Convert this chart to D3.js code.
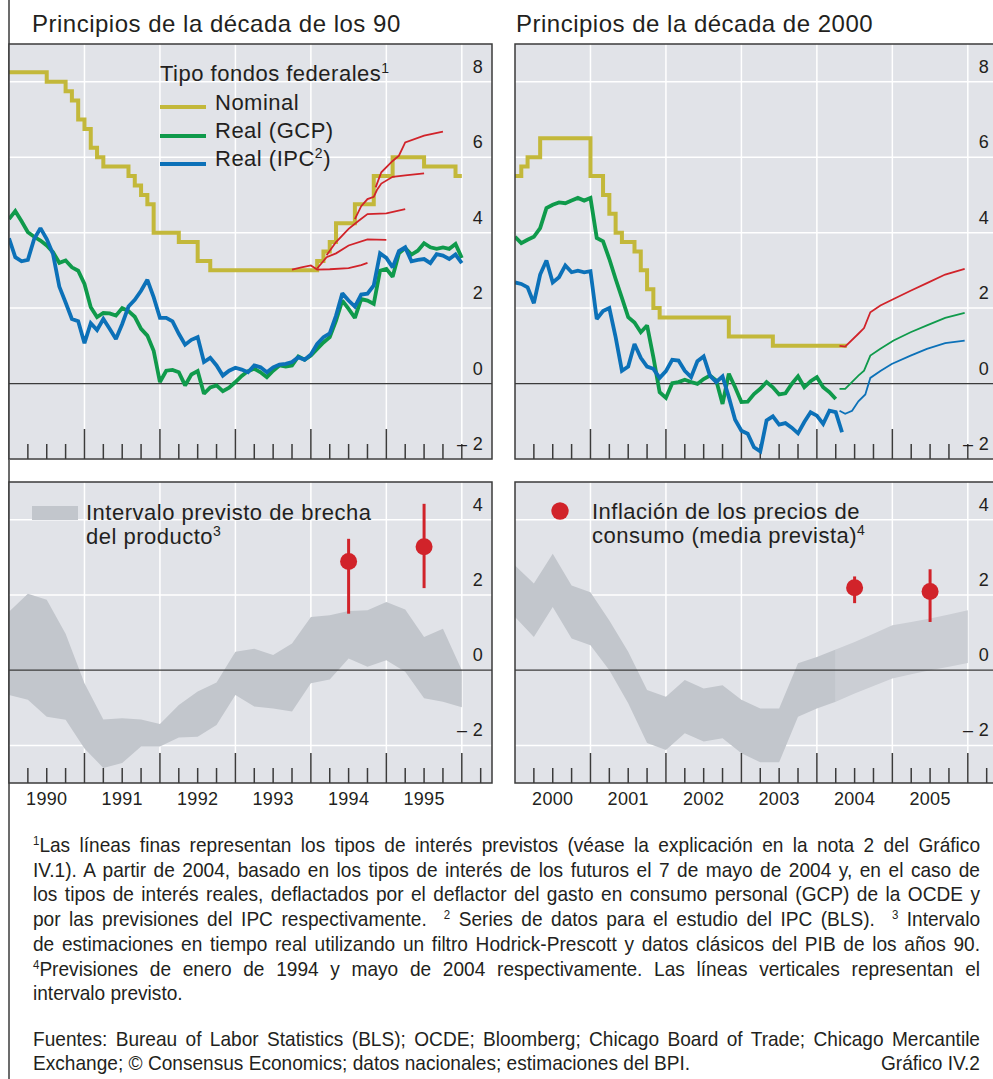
<!DOCTYPE html>
<html>
<head>
<meta charset="utf-8">
<title>Gráfico IV.2</title>
<script src="https://cdn.jsdelivr.net/npm/d3@7/dist/d3.min.js"></script>
<style>
  body { margin: 0; background: #ffffff; }
  text { font-family: "Liberation Sans", Arial, sans-serif; fill: #231f20; }
  .big { font-size: 22px; letter-spacing: 0.5px; }
  .title { font-size: 24px; letter-spacing: 0.5px; }
  .tick { font-size: 18px; letter-spacing: 0.3px; }
  .foot { font-size: 20px; white-space: pre; }
</style>
</head>
<body>
<svg id="chart" width="993" height="1079"></svg>
<script>
// ---------------- data ----------------
// fed funds target (nominal), monthly from Jan 1990 to Dec 1995
var nominal90 = [8.25,8.25,8.25,8.25,8.25,8.25,8,8,8,7.75,7.5,7,
  6.75,6.25,6,5.75,5.75,5.75,5.75,5.5,5.25,5,4.75,4,
  4,4,4,3.75,3.75,3.75,3.25,3.25,3,3,3,3,
  3,3,3,3,3,3,3,3,3,3,3,3,
  3,3.25,3.5,3.75,4.25,4.25,4.25,4.75,4.75,4.75,5.5,5.5,
  5.5,6,6,6,6,6,5.75,5.75,5.75,5.75,5.75,5.5];
// real rates (PCE deflator / CPI), monthly from Jan 1990 to Jan 1996
var gcp90 = [4.36,4.57,4.30,4.01,3.89,3.79,3.66,3.48,3.20,3.26,3.08,2.99,
  2.64,2.02,1.76,1.87,1.86,1.80,2.00,1.92,1.77,1.45,1.27,0.87,
  0.04,0.34,0.36,0.30,-0.05,0.24,0.33,-0.27,-0.10,-0.05,-0.20,-0.11,
  0.04,0.20,0.33,0.39,0.30,0.17,0.34,0.48,0.45,0.48,0.72,0.63,
  0.74,0.92,1.09,1.23,1.67,2.20,1.98,1.74,2.24,2.20,2.11,2.99,
  3.04,2.83,3.45,3.59,3.42,3.52,3.72,3.61,3.57,3.61,3.57,3.70,3.33];
var ipc90 = [3.85,3.35,3.24,3.28,3.83,4.12,3.83,3.43,2.57,2.15,1.71,1.65,
  1.07,1.60,1.42,1.71,1.45,1.18,1.58,2.04,2.22,2.46,2.75,2.29,
  1.74,1.74,1.65,1.32,1.03,1.16,1.23,0.57,0.68,0.48,0.21,0.34,
  0.42,0.37,0.30,0.48,0.43,0.30,0.43,0.50,0.52,0.57,0.70,0.63,
  0.77,1.05,1.23,1.33,1.80,2.39,2.20,2.04,2.36,2.38,2.60,3.45,
  3.33,3.08,3.51,3.61,3.24,3.28,3.30,3.19,3.43,3.39,3.30,3.42,3.19];
// futures-implied paths, [months since Jan 1990, rate]
var fut90a = [[45,3.02],[46.5,3.08],[48,3.13],[49,3.02],[51,3.03],[54,3.06],[56,3.14],[57,3.20]];
var fut90b = [[49,3.05],[50.5,3.35],[52,3.45],[54,3.66],[57,3.82],[60,3.81]];
var fut90c = [[50.5,3.40],[52,3.75],[54,4.10],[55.5,4.30],[57,4.49],[60,4.51],[63,4.62]];
var fut90d = [[55,4.36],[56,4.70],[57,4.89],[58,4.95],[58.5,5.13],[59.2,5.30],[61,5.48],[63,5.52],[66,5.57]];
var fut90e = [[58.3,5.20],[59.2,5.60],[61,5.90],[62,6.04],[63,6.39],[66,6.57],[69,6.68]];

// early 2000s, monthly from Jan 2000
var nominal00 = [5.5,5.75,6,6,6.5,6.5,6.5,6.5,6.5,6.5,6.5,6.5,
  5.5,5.5,5,4.5,4,3.75,3.75,3.5,3,2.5,2,1.75,
  1.75,1.75,1.75,1.75,1.75,1.75,1.75,1.75,1.75,1.75,1.25,1.25,
  1.25,1.25,1.25,1.25,1.25,1,1,1,1,1,1,1,
  1,1,1,1,1];
var gcp00 = [3.89,3.72,3.81,3.89,4.12,4.65,4.74,4.80,4.78,4.85,4.92,4.85,
  4.92,3.86,3.77,3.30,2.77,2.27,1.76,1.62,1.36,1.54,0.70,-0.23,
  -0.38,0.01,0.04,0.10,0.04,-0.01,0.12,0.21,0.08,-0.54,0.26,-0.10,
  -0.49,-0.48,-0.28,-0.14,0.04,-0.10,-0.29,-0.26,-0.01,0.19,-0.10,0.06,
  0.17,-0.10,-0.23,-0.41];
var ipc00 = [2.68,2.64,2.55,2.13,2.89,3.26,2.68,2.82,3.13,2.95,2.99,2.95,
  2.98,1.71,1.92,2.00,1.23,0.34,0.45,1.05,0.68,0.45,0.39,0.15,
  0.33,0.63,0.61,0.34,0.17,0.59,0.72,0.21,0.04,0.19,-0.36,-0.96,
  -1.25,-1.33,-1.69,-1.80,-0.98,-0.87,-1.09,-1.05,-1.17,-1.32,-1.02,-0.76,
  -0.85,-1.07,-0.72,-0.76,-1.29];
// futures-implied paths from May 2004, [months since Jan 2000, rate]
var fut00Nominal = [[51.6,1.00],[52.5,0.98],[54.6,1.32],[55.5,1.47],[56.5,1.89],[58.1,2.07],[60.2,2.24],[62.9,2.46],[65.5,2.66],[68.4,2.89],[71.5,3.04]];
var fut00Gcp = [[51.6,-0.14],[52.5,-0.14],[54.6,0.21],[55.5,0.34],[56.5,0.74],[58.1,0.92],[60.2,1.14],[62.9,1.36],[65.5,1.54],[68.4,1.74],[71.5,1.87]];
var fut00Ipc = [[51.6,-0.72],[52.5,-0.80],[53.6,-0.72],[54.6,-0.47],[55.7,-0.29],[56.5,0.15],[58.1,0.33],[59.9,0.52],[62.9,0.74],[65.5,0.92],[68.4,1.07],[71.5,1.14]];

// output gap range, quarterly from 1990 Q1 to 1996 Q1
var gap90Hi = [1.55,2.03,1.87,0.97,-0.35,-1.31,-1.28,-1.31,-1.43,-0.93,-0.57,-0.33,0.49,0.57,0.40,0.71,1.41,1.46,1.57,1.59,1.81,1.61,0.88,1.10,0.00];
var gap90Lo = [-0.66,-0.79,-1.24,-1.32,-2.08,-2.60,-2.47,-2.03,-2.03,-1.79,-1.77,-1.46,-0.66,-0.97,-1.02,-1.10,-0.35,-0.25,0.31,0.09,0.26,-0.04,-0.75,-0.84,-0.99];
// same for 2000 Q1 to 2006 Q1 (from 2004 Q2 on a forecast)
var gap00Hi = [2.78,2.30,3.09,2.25,2.07,1.32,0.49,-0.53,-0.71,-0.26,-0.49,-0.40,-0.79,-1.02,-1.02,0.18,0.35,0.55,0.75,0.97,1.19,1.28,1.37,1.48,1.59];
var gap00Lo = [1.41,0.88,1.68,0.84,0.66,0.00,-0.88,-1.94,-2.12,-1.68,-1.90,-1.81,-2.21,-2.45,-2.45,-1.24,-1.02,-0.84,-0.62,-0.42,-0.22,-0.11,0.00,0.09,0.19];
var gapForecastFrom = 17;

// consumer price inflation forecasts: year, mean, low, high
var cpi90Year = [1994, 1995], cpi90Mean = [2.89, 3.28], cpi90Lo = [1.50, 2.18], cpi90Hi = [3.49, 4.42];
var cpi00Year = [2004, 2005], cpi00Mean = [2.19, 2.09], cpi00Lo = [1.78, 1.28], cpi00Hi = [2.49, 2.68];

var topTicks = [8, 6, 4, 2, 0, -2];
var bottomTicks = [4, 2, 0, -2];

// ---------------- drawing ----------------
var col = {bg:'#e1e3e8', band:'#c2c6cc', bandFc:'#cbced4', grid:'#ffffff', ink:'#231f20',
  frame:'#3b3b3b', nominal:'#c3b83a', gcp:'#0f9a4b', ipc:'#0c71b8', red:'#d1232a'};
var svg = d3.select('#chart');
var defs = svg.append('defs');

svg.append('rect').attr('width', 993).attr('height', 1079).attr('fill', '#fff');
// outer box left edge
svg.append('line').attr('x1', 9).attr('x2', 9).attr('y1', 0).attr('y2', 1079)
  .attr('stroke', col.frame).attr('stroke-width', 1.5);

function makePanel(id, xr, yr, xd, yd)
{
  var p = {id: id};
  p.x = d3.scaleLinear().domain(xd).range(xr);
  p.y = d3.scaleLinear().domain(yd).range([yr[1], yr[0]]);
  p.x0 = xr[0]; p.x1 = xr[1]; p.yt = yr[0]; p.yb = yr[1];
  defs.append('clipPath').attr('id', id + '-clip').append('rect')
    .attr('x', xr[0]).attr('y', yr[0]).attr('width', xr[1] - xr[0]).attr('height', yr[1] - yr[0]);
  p.g = svg.append('g').attr('id', id);
  p.g.append('rect').attr('x', xr[0]).attr('y', yr[0]).attr('width', xr[1] - xr[0])
    .attr('height', yr[1] - yr[0]).attr('fill', col.bg);
  p.grid = p.g.append('g');
  p.band = p.g.append('g').attr('clip-path', 'url(#' + id + '-clip)');
  p.axis = p.g.append('g');
  p.lines = p.g.append('g').attr('clip-path', 'url(#' + id + '-clip)');
  p.top = p.g.append('g');
  return p;
}

function drawAxes(p, yTicks, isBottom)
{
  var start = p.x.domain()[0];
  // white grid
  for (var k = 1; k <= 6; k++)
    p.grid.append('line').attr('x1', p.x(start + k)).attr('x2', p.x(start + k))
      .attr('y1', p.yt).attr('y2', p.yb).attr('stroke', col.grid).attr('stroke-width', 1.5);
  yTicks.forEach(function(v) {
    if (v == 0) return;
    p.grid.append('line').attr('x1', p.x0).attr('x2', p.x1).attr('y1', p.y(v)).attr('y2', p.y(v))
      .attr('stroke', col.grid).attr('stroke-width', 1.5);
  });
  // zero line
  p.axis.append('line').attr('x1', p.x0).attr('x2', p.x1).attr('y1', p.y(0)).attr('y2', p.y(0))
    .attr('stroke', col.frame).attr('stroke-width', 1.2);
  // quarter ticks, taller on year boundaries
  var last = isBottom ? 25 : 24;
  for (var q = 1; q <= last; q++) {
    var major = (q % 4 == 0) && (isBottom || q < 24);
    var xx = p.x(start + q / 4);
    p.axis.append('line').attr('x1', xx).attr('x2', xx).attr('y1', p.yb).attr('y2', p.yb - (major ? 30 : 15))
      .attr('stroke', col.frame).attr('stroke-width', 1.5);
  }
  // value labels sit above their grid line
  yTicks.forEach(function(v) {
    p.axis.append('text').attr('class', 'tick').attr('x', p.x1 - 9).attr('y', p.y(v) - 9)
      .attr('text-anchor', 'end')
      .text(v < 0 ? '\u2013 ' + Math.abs(v) : v);
  });
  if (isBottom) {
    for (var k2 = 0; k2 < 6; k2++)
      svg.append('text').attr('class', 'tick').attr('x', p.x(start + k2 + 0.5)).attr('y', 805)
        .attr('text-anchor', 'middle').text(start + k2);
  }
  p.top.append('rect').attr('x', p.x0).attr('y', p.yt).attr('width', p.x1 - p.x0)
    .attr('height', p.yb - p.yt).attr('fill', 'none').attr('stroke', col.frame).attr('stroke-width', 1.5);
}

function monthly(start, arr) {
  return arr.map(function(v, i) { return [start + i / 12, v]; });
}
function byMonth(start, arr) {
  return arr.map(function(d) { return [start + d[0] / 12, d[1]]; });
}

function drawLine(p, data, color, width, curve)
{
  var line = d3.line().x(function(d) { return p.x(d[0]); }).y(function(d) { return p.y(d[1]); });
  if (curve) line.curve(curve);
  p.lines.append('path').datum(data).attr('d', line).attr('fill', 'none')
    .attr('stroke', color).attr('stroke-width', width)
    .attr('stroke-linejoin', 'miter').attr('stroke-miterlimit', 2);
}

function drawBand(p, start, hi, lo, color)
{
  var d = hi.map(function(v, i) { return {t: start + i / 4, hi: v, lo: lo[i]}; });
  var area = d3.area().x(function(e) { return p.x(e.t); })
    .y0(function(e) { return p.y(e.lo); }).y1(function(e) { return p.y(e.hi); });
  p.band.append('path').datum(d).attr('d', area).attr('fill', color);
}

function drawDots(p, years, mean, lo, hi)
{
  years.forEach(function(yr, i) {
    var xx = p.x(yr + 0.5);
    p.lines.append('line').attr('x1', xx).attr('x2', xx).attr('y1', p.y(lo[i])).attr('y2', p.y(hi[i]))
      .attr('stroke', col.red).attr('stroke-width', 3);
    p.lines.append('circle').attr('cx', xx).attr('cy', p.y(mean[i])).attr('r', 8.5).attr('fill', col.red);
  });
}

function stepped(start, arr, endMonth) {
  var d = monthly(start, arr);
  d.push([start + endMonth / 12, arr[arr.length - 1]]);
  return d;
}

var pTL = makePanel('tl', [9, 492], [44, 459], [1990, 1996.4], [-2, 9]);
var pTR = makePanel('tr', [515, 998], [44, 459], [2000, 2006.4], [-2, 9]);
var pBL = makePanel('bl', [9, 492], [482, 783], [1990, 1996.4], [-3, 5]);
var pBR = makePanel('br', [515, 998], [482, 783], [2000, 2006.4], [-3, 5]);

// bands first so grid shows beneath them
drawBand(pBL, 1990, gap90Hi, gap90Lo, col.band);
drawBand(pBR, 2000, gap00Hi.slice(0, gapForecastFrom + 1), gap00Lo.slice(0, gapForecastFrom + 1), col.band);
drawBand(pBR, 2000 + gapForecastFrom / 4, gap00Hi.slice(gapForecastFrom), gap00Lo.slice(gapForecastFrom), col.bandFc);

drawAxes(pTL, topTicks, false);
drawAxes(pTR, topTicks, false);
drawAxes(pBL, bottomTicks, true);
drawAxes(pBR, bottomTicks, true);

// early 90s
drawLine(pTL, stepped(1990, nominal90, 72), col.nominal, 4, d3.curveStepAfter);
drawLine(pTL, monthly(1990, gcp90), col.gcp, 3.8);
drawLine(pTL, monthly(1990, ipc90), col.ipc, 3.8);
[fut90a, fut90b, fut90c, fut90d, fut90e].forEach(function(f) {
  drawLine(pTL, byMonth(1990, f), col.red, 1.8);
});

// early 2000s
drawLine(pTR, stepped(2000, nominal00, 52.8), col.nominal, 4, d3.curveStepAfter);
drawLine(pTR, monthly(2000, gcp00), col.gcp, 3.8);
drawLine(pTR, monthly(2000, ipc00), col.ipc, 3.8);
drawLine(pTR, byMonth(2000, fut00Nominal), col.red, 1.8);
drawLine(pTR, byMonth(2000, fut00Gcp), col.gcp, 1.8);
drawLine(pTR, byMonth(2000, fut00Ipc), col.ipc, 1.8);

drawDots(pBL, cpi90Year, cpi90Mean, cpi90Lo, cpi90Hi);
drawDots(pBR, cpi00Year, cpi00Mean, cpi00Lo, cpi00Hi);

// titles
svg.append('text').attr('class', 'title').attr('x', 32).attr('y', 32).text('Principios de la década de los 90');
svg.append('text').attr('class', 'title').attr('x', 516).attr('y', 32).text('Principios de la década de 2000');

// superscript helper
function sup(t, s) {
  t.append('tspan').attr('dy', -8).style('font-size', '14px').text(s);
}

// legend, top left
var lg = svg.append('g');
var t0 = lg.append('text').attr('class', 'big').attr('x', 160).attr('y', 81).text('Tipo fondos federales');
sup(t0, '1');
var legendItems = [['Nominal', col.nominal, 107, 110], ['Real (GCP)', col.gcp, 136, 138], ['Real (IPC', col.ipc, 164, 166]];
legendItems.forEach(function(it, i) {
  lg.append('line').attr('x1', 160).attr('x2', 206).attr('y1', it[2]).attr('y2', it[2])
    .attr('stroke', it[1]).attr('stroke-width', 4);
  var t = lg.append('text').attr('class', 'big').attr('x', 215).attr('y', it[3]).text(it[0]);
  if (i == 2) {
    sup(t, '2');
    t.append('tspan').attr('dy', 8).text(')');
  }
});

// legend, bottom panels
svg.append('rect').attr('x', 32).attr('y', 506).attr('width', 46).attr('height', 14).attr('fill', col.band);
svg.append('text').attr('class', 'big').attr('x', 86).attr('y', 520).text('Intervalo previsto de brecha');
var t3 = svg.append('text').attr('class', 'big').attr('x', 86).attr('y', 544).text('del producto');
sup(t3, '3');
svg.append('circle').attr('cx', 560).attr('cy', 511).attr('r', 8.7).attr('fill', col.red);
svg.append('text').attr('class', 'big').attr('x', 592).attr('y', 519).text('Inflación de los precios de');
var t4 = svg.append('text').attr('class', 'big').attr('x', 592).attr('y', 543).text('consumo (media prevista)');
sup(t4, '4');

// ---------------- footnotes ----------------
var footLines = [
  [['1', 1], ['Las líneas finas representan los tipos de interés previstos (véase la explicación en la nota 2 del Gráfico']],
  [['IV.1). A partir de 2004, basado en los tipos de interés de los futuros el 7 de mayo de 2004 y, en el caso de']],
  [['los tipos de interés reales, deflactados por el deflactor del gasto en consumo personal (GCP) de la OCDE y']],
  [['por las previsiones del IPC respectivamente.  '], ['2', 1], [' Series de datos para el estudio del IPC (BLS).  '], ['3', 1], [' Intervalo']],
  [['de estimaciones en tiempo real utilizando un filtro Hodrick-Prescott y datos clásicos del PIB de los años 90.']],
  [['4', 1], ['Previsiones de enero de 1994 y mayo de 2004 respectivamente. Las líneas verticales representan el']],
  [['intervalo previsto.']],
  [['Fuentes: Bureau of Labor Statistics (BLS); OCDE; Bloomberg; Chicago Board of Trade; Chicago Mercantile']],
  [['Exchange; © Consensus Economics; datos nacionales; estimaciones del BPI.']]
];
var justified = [1, 1, 1, 1, 1, 1, 0, 1, 0];
var footY = [852, 876.7, 901.4, 926.1, 950.8, 975.5, 1000.2, 1046, 1070];
var sx = 0.955, footW = 947;

footLines.forEach(function(parts, i) {
  var g = svg.append('g').attr('transform', 'translate(33,' + footY[i] + ') scale(' + sx + ',1)');
  var t = g.append('text').attr('class', 'foot').attr('x', 0).attr('y', 0);
  var up = false;
  parts.forEach(function(pt) {
    var ts = t.append('tspan').text(pt[0]);
    if (pt[1]) { ts.attr('dy', -7).style('font-size', '12px'); up = true; }
    else if (up) { ts.attr('dy', 7); up = false; }
  });
  if (justified[i]) {
    var target = footW / sx;
    var natural = t.node().getComputedTextLength();
    var spaces = parts.map(function(pt) { return pt[0]; }).join('').split(' ').length - 1;
    if (natural < target) t.style('word-spacing', ((target - natural) / spaces) + 'px');
    else t.attr('textLength', target).attr('lengthAdjust', 'spacingAndGlyphs');
  }
});
svg.append('g').attr('transform', 'translate(980,' + footY[8] + ') scale(' + sx + ',1)')
  .append('text').attr('class', 'foot').attr('text-anchor', 'end').text('Gráfico IV.2');
</script>
</body>
</html>
